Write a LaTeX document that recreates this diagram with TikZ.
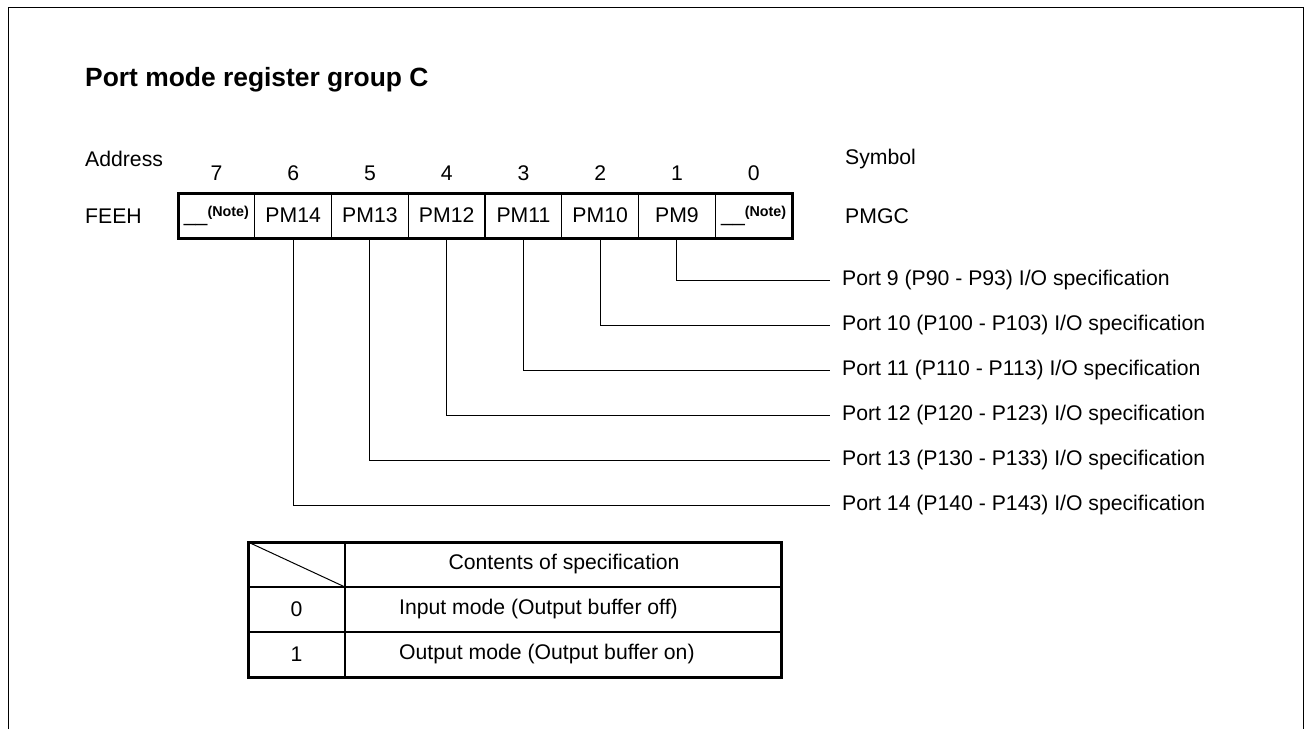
\documentclass[tikz,border=0pt]{standalone}
\usepackage{fontspec}
\setmainfont{Liberation Sans}
\usepackage{tikz}
\usetikzlibrary{positioning}

\newcommand{\notemark}{\_\_\raisebox{5pt}{\fontsize{14.3}{15}\selectfont\bfseries(Note)}}

\tikzset{
  bitcell/.style={draw,line width=1.2pt,minimum width=76.75pt,minimum height=45pt,inner sep=0pt,outer sep=0pt},
  portlbl/.style={anchor=west,inner xsep=12pt,inner ysep=0pt},
  conn/.style={line width=0.9pt},
  plain/.style={inner sep=0pt}
}

\begin{document}
\begin{tikzpicture}[x=1pt,y=-1pt,font=\fontsize{21.2}{25}\selectfont]
\useasboundingbox (0,0) rectangle (1305,729);
\draw[line width=1pt](8,729)--(8,7)--(1303,7)--(1303,729);

\node[plain,anchor=west,font=\fontsize{26.4}{30}\selectfont\bfseries] (title) at (85,80) {Port mode register group C};

\node[plain,anchor=west] (addr) at (85,159) {Address};
\node[plain,anchor=west] (sym) at (845,159) {Symbol};
\node[plain,anchor=west] (feeh) at (85,216) {FEEH};
\node[plain,anchor=west] (pmgc) at (845,216) {PMGC};

\node[bitcell] (c7) at (216.4,215.5) {\notemark};
\node[bitcell,right=0pt of c7] (c6) {PM14};
\node[bitcell,right=0pt of c6] (c5) {PM13};
\node[bitcell,right=0pt of c5] (c4) {PM12};
\node[bitcell,right=0pt of c4] (c3) {PM11};
\node[bitcell,right=0pt of c3] (c2) {PM10};
\node[bitcell,right=0pt of c2] (c1) {PM9};
\node[bitcell,right=0pt of c1] (c0) {\notemark};
\draw[line width=3pt] (c7.north west) rectangle (c0.south east);

\node[plain] (b7) at (c7.center |- 0,173) {7};
\node[plain] (b6) at (c6.center |- 0,173) {6};
\node[plain] (b5) at (c5.center |- 0,173) {5};
\node[plain] (b4) at (c4.center |- 0,173) {4};
\node[plain] (b3) at (c3.center |- 0,173) {3};
\node[plain] (b2) at (c2.center |- 0,173) {2};
\node[plain] (b1) at (c1.center |- 0,173) {1};
\node[plain] (b0) at (c0.center |- 0,173) {0};

\node[portlbl] (p9) at (830,280) {Port 9 (P90 - P93) I/O specification};
\node[portlbl] (p10) at (830,325) {Port 10 (P100 - P103) I/O specification};
\node[portlbl] (p11) at (830,370) {Port 11 (P110 - P113) I/O specification};
\node[portlbl] (p12) at (830,415) {Port 12 (P120 - P123) I/O specification};
\node[portlbl] (p13) at (830,460) {Port 13 (P130 - P133) I/O specification};
\node[portlbl] (p14) at (830,505) {Port 14 (P140 - P143) I/O specification};

\draw[conn] (c1.south) |- (p9.west);
\draw[conn] (c2.south) |- (p10.west);
\draw[conn] (c3.south) |- (p11.west);
\draw[conn] (c4.south) |- (p12.west);
\draw[conn] (c5.south) |- (p13.west);
\draw[conn] (c6.south) |- (p14.west);

\draw[line width=1pt] (248,542)--(345,587);
\draw[line width=1.3pt] (345,542)--(345,677);
\draw[line width=2.5pt] (248,587)--(781,587);
\draw[line width=1.5pt] (248,632)--(781,632);
\draw[line width=3pt] (248,542) rectangle (781,677);

\node[plain] (hdr) at (564,564.5) {Contents of specification};
\node[plain] (v0) at (296.5,609.5) {0};
\node[plain,anchor=west] (m0) at (399,609.5) {Input mode (Output buffer off)};
\node[plain] (v1) at (296.5,654.5) {1};
\node[plain,anchor=west] (m1) at (399,654.5) {Output mode (Output buffer on)};
\end{tikzpicture}
\end{document}
